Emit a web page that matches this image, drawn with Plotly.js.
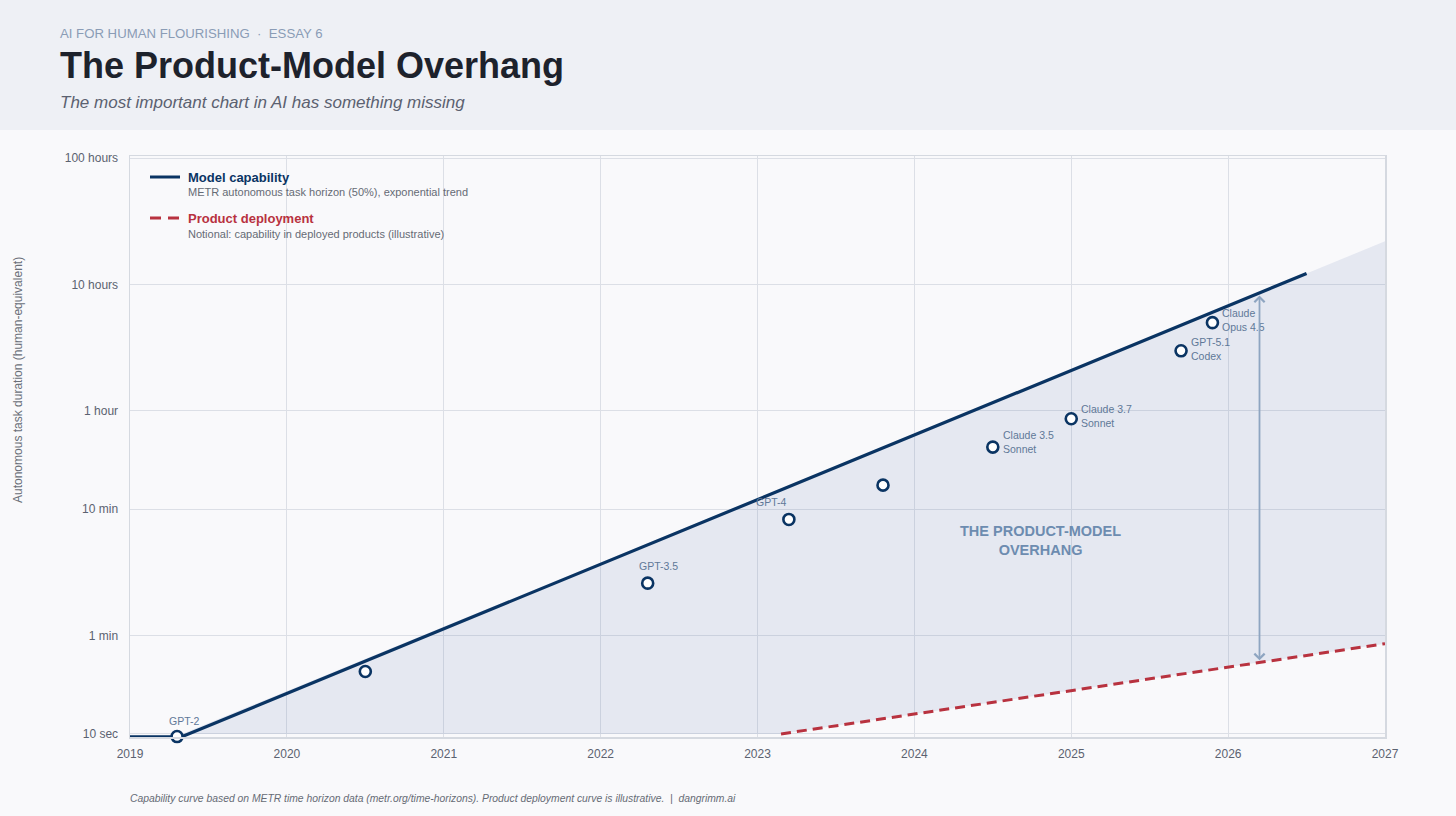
<!DOCTYPE html>
<html>
<head>
<meta charset="utf-8">
<script src="https://cdn.plot.ly/plotly-3.0.1.min.js"></script>
<style>
html,body{margin:0;padding:0;background:#f9f9fb;}
#chart{width:1456px;height:816px;}
</style>
</head>
<body>
<div id="chart"></div>
<script>
// ---------- DATA (durations in minutes, x in fractional years) ----------
const trendYears      = [2019, 2019.33, 2026.5];
const trendMinutes    = [0.1585, 0.1585, 732];
const shadeYears      = [2019, 2019.33, 2027, 2027, 2023.15, 2019];
const shadeMinutes    = [0.1667, 0.1667, 1316, 0.863, 0.1667, 0.1667];
const productYears    = [2023.15, 2027];
const productMinutes  = [0.1667, 0.863];
const modelYears      = [2019.30, 2020.50, 2022.30, 2023.20, 2023.80, 2024.50, 2025.00, 2025.70, 2025.90];
const modelMinutes    = [0.159, 0.52, 2.6, 8.3, 15.5, 31, 52, 179, 299];
const modelLabels     = ['GPT-2', '', 'GPT-3.5', 'GPT-4', '', 'Claude 3.5<br>Sonnet', 'Claude 3.7<br>Sonnet', 'GPT-5.1<br>Codex', 'Claude<br>Opus 4.5'];
const yTickMinutes    = [1/6, 1, 10, 60, 600, 6000];
const yTickLabels     = ['10 sec', '1 min', '10 min', '1 hour', '10 hours', '100 hours'];
const xTickYears      = [2019, 2020, 2021, 2022, 2023, 2024, 2025, 2026, 2027];
const xTickLabels     = ['2019', '2020', '2021', '2022', '2023', '2024', '2025', '2026', '2027'];
const gapYear         = 2026.2;
const gapTopMinutes   = 490;
const gapBottomMinutes= 0.62;

// ---------- LAYOUT HELPERS ----------
const W = 1456, H = 816, L = 130, R = 71, T = 156, B = 79;
const PW = W - L - R, PH = H - T - B;
const fx = px => (px - L) / PW;
const fy = py => (H - B - py) / PH;
const FONT = 'Liberation Sans, Arial, sans-serif';
const NAVY = '#0a3463', RED = '#b8323f';

// label placement: [xanchor, dx, dy] per point
const labelPlace = [
  ['center', 7, 16], null, ['center', 11, 17], ['center', -17, 17], null,
  ['left', 8, 5], ['left', 8, 3], ['left', 8, 2], ['left', 8, 3]
];

const traces = [
  { x: shadeYears, y: shadeMinutes, type: 'scatter', mode: 'lines', fill: 'toself',
    fillcolor: 'rgba(59,89,161,0.10)', line: { width: 0 }, hoverinfo: 'skip', showlegend: false },
  { x: productYears, y: productMinutes, type: 'scatter', mode: 'lines',
    line: { color: RED, width: 3, dash: '10px,6px' }, hoverinfo: 'skip', showlegend: false },
  { x: trendYears, y: trendMinutes, type: 'scatter', mode: 'lines',
    line: { color: NAVY, width: 3.2 }, hoverinfo: 'skip', showlegend: false },
  { x: modelYears, y: modelMinutes, type: 'scatter', mode: 'markers', cliponaxis: false,
    marker: { symbol: 'circle', size: 11, color: '#ffffff', line: { color: NAVY, width: 2.6 } },
    hoverinfo: 'skip', showlegend: false }
];

const annotations = [];
// point labels
modelLabels.forEach((lab, i) => {
  if (!lab) return;
  const p = labelPlace[i];
  annotations.push({
    x: modelYears[i], y: Math.log10(modelMinutes[i]), xref: 'x', yref: 'y',
    text: lab, showarrow: false, xanchor: p[0], yanchor: 'middle', align: 'left',
    xshift: p[1], yshift: p[2],
    font: { family: FONT, size: 10.5, color: '#5f7898' }
  });
});
// gap arrow
annotations.push({
  x: gapYear, y: Math.log10(gapTopMinutes), xref: 'x', yref: 'y',
  ax: gapYear, ay: Math.log10(gapBottomMinutes), axref: 'x', ayref: 'y',
  showarrow: true, arrowside: 'end+start', arrowhead: 4, startarrowhead: 4,
  arrowsize: 1.1, startarrowsize: 1.1, arrowwidth: 1.8, arrowcolor: '#8ea5c1', text: ''
});
// overhang label
annotations.push({
  x: fx(1040), y: fy(540), xref: 'paper', yref: 'paper', showarrow: false,
  xanchor: 'center', yanchor: 'middle',
  text: '<b>THE PRODUCT-MODEL<br>OVERHANG</b>', align: 'center',
  font: { family: FONT, size: 14.5, color: '#6d8cb0' }
});
// legend
annotations.push(
  { x: fx(186), y: fy(177), xref: 'paper', yref: 'paper', showarrow: false, xanchor: 'left', yanchor: 'middle',
    text: '<b>Model capability</b>', font: { family: FONT, size: 13, color: NAVY } },
  { x: fx(186), y: fy(192), xref: 'paper', yref: 'paper', showarrow: false, xanchor: 'left', yanchor: 'middle',
    text: 'METR autonomous task horizon (50%), exponential trend', font: { family: FONT, size: 11, color: '#666b75' } },
  { x: fx(186), y: fy(218), xref: 'paper', yref: 'paper', showarrow: false, xanchor: 'left', yanchor: 'middle',
    text: '<b>Product deployment</b>', font: { family: FONT, size: 13, color: RED } },
  { x: fx(186), y: fy(234), xref: 'paper', yref: 'paper', showarrow: false, xanchor: 'left', yanchor: 'middle',
    text: 'Notional: capability in deployed products (illustrative)', font: { family: FONT, size: 11, color: '#666b75' } }
);
// header
annotations.push(
  { x: fx(58), y: fy(33), xref: 'paper', yref: 'paper', showarrow: false, xanchor: 'left', yanchor: 'middle',
    text: 'AI FOR HUMAN FLOURISHING  ·  ESSAY 6', font: { family: FONT, size: 13.2, color: '#8a9cb6' } },
  { x: fx(58), y: fy(66), xref: 'paper', yref: 'paper', showarrow: false, xanchor: 'left', yanchor: 'middle',
    text: '<b>The Product-Model Overhang</b>', font: { family: FONT, size: 36, color: '#1d222c' } },
  { x: fx(58), y: fy(102), xref: 'paper', yref: 'paper', showarrow: false, xanchor: 'left', yanchor: 'middle',
    text: '<i>The most important chart in AI has something missing</i>', font: { family: FONT, size: 17, color: '#5b6170' } }
);
// y-axis title
annotations.push({
  x: fx(18), y: fy(380), xref: 'paper', yref: 'paper', showarrow: false, textangle: -90,
  xanchor: 'center', yanchor: 'middle',
  text: 'Autonomous task duration (human-equivalent)', font: { family: FONT, size: 12, color: '#6a6f78' }
});
// footer
annotations.push({
  x: fx(128), y: fy(798), xref: 'paper', yref: 'paper', showarrow: false, xanchor: 'left', yanchor: 'middle',
  text: '<i>Capability curve based on METR time horizon data (metr.org/time-horizons). Product deployment curve is illustrative.  |  dangrimm.ai</i>',
  font: { family: FONT, size: 10.35, color: '#666b75' }
});

const shapes = [
  { type: 'rect', xref: 'paper', yref: 'paper', x0: fx(0), x1: fx(W), y0: fy(130), y1: fy(0),
    fillcolor: '#eef0f5', line: { width: 0 }, layer: 'below' },
  { type: 'line', xref: 'paper', yref: 'paper', x0: fx(150), x1: fx(180), y0: fy(177), y1: fy(177),
    line: { color: NAVY, width: 3 } },
  { type: 'line', xref: 'paper', yref: 'paper', x0: fx(150), x1: fx(180), y0: fy(218), y1: fy(218),
    line: { color: RED, width: 3, dash: '11px,7px' } }
];

const layout = {
  width: W, height: H,
  margin: { l: L, r: R, t: T, b: B, pad: 0 },
  paper_bgcolor: '#f9f9fb', plot_bgcolor: '#f9f9fb',
  showlegend: false,
  font: { family: FONT, color: '#5b6270' },
  xaxis: {
    range: [2019, 2027], tickmode: 'array', tickvals: xTickYears, ticktext: xTickLabels,
    showgrid: true, gridcolor: '#dcdfe6', gridwidth: 1, zeroline: false,
    showline: true, mirror: true, linecolor: '#d5d9e0', linewidth: 1.5,
    ticks: '', ticklabelstandoff: 5, tickfont: { family: FONT, size: 12, color: '#5b6270' },
    fixedrange: true
  },
  yaxis: {
    type: 'log', range: [-0.802, 3.794], tickmode: 'array', tickvals: yTickMinutes, ticktext: yTickLabels,
    showgrid: true, gridcolor: '#dcdfe6', gridwidth: 1, zeroline: false,
    showline: true, mirror: true, linecolor: '#d5d9e0', linewidth: 1.5,
    ticks: '', ticklabelstandoff: 8, tickfont: { family: FONT, size: 12, color: '#5b6270' },
    fixedrange: true
  },
  shapes: shapes,
  annotations: annotations
};

Plotly.newPlot('chart', traces, layout, { displayModeBar: false, staticPlot: true });
</script>
</body>
</html>
